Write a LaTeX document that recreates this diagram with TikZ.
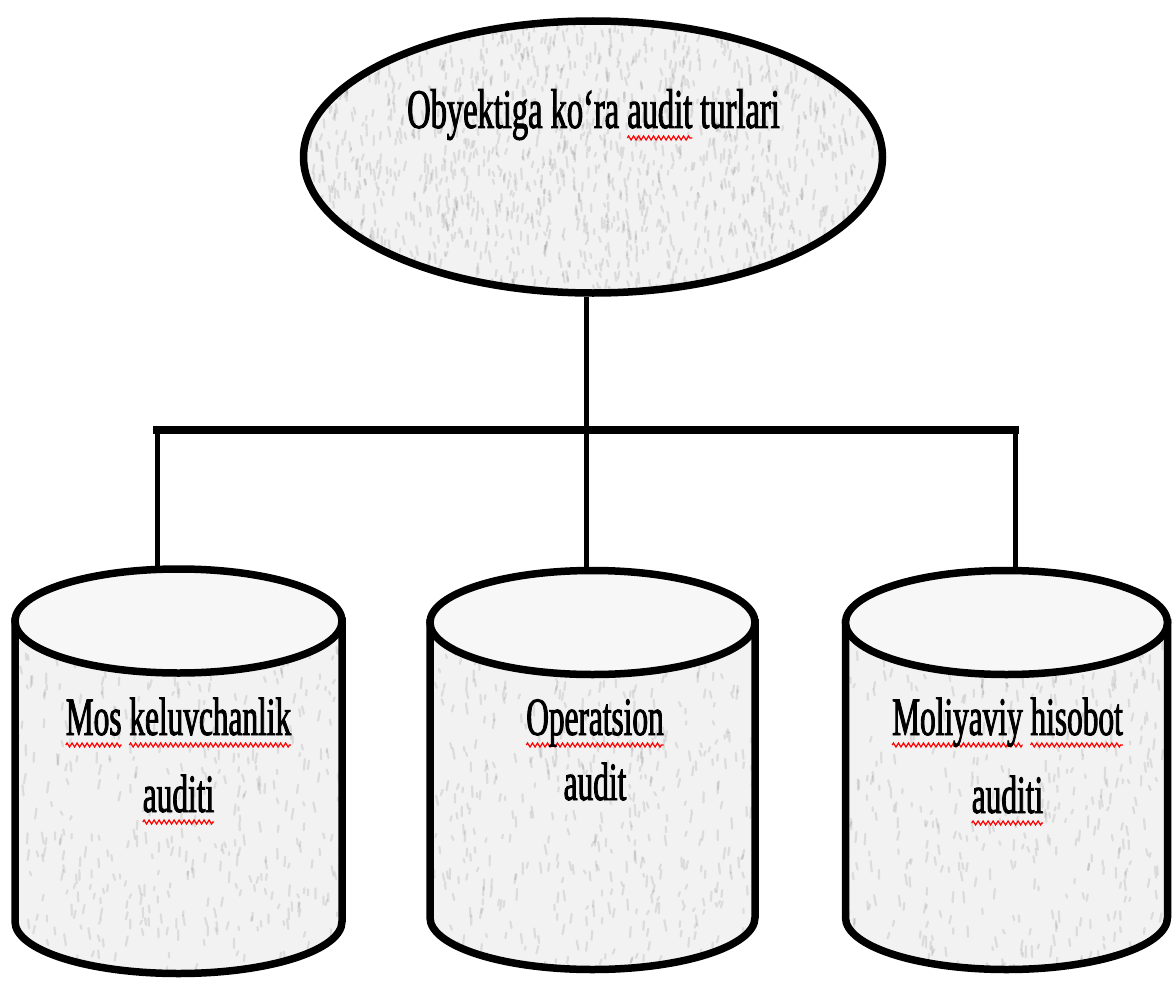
\documentclass[tikz,border=0pt]{standalone}
\usepackage{fontspec}
\usetikzlibrary{shapes.geometric,decorations.pathmorphing}
\newfontfamily\tf[FakeStretch=0.58,FakeBold=1.6]{Liberation Serif}
\newsavebox\sqbox
\newcommand\sq[1]{\leavevmode\sbox\sqbox{#1}\rlap{\tikz[overlay,baseline=0pt,x=1pt,y=1pt]\draw[red, line width=1.2pt, decorate, decoration={zigzag, amplitude=2pt, segment length=5pt}] (0,-10) -- (\wd\sqbox,-10);}\usebox\sqbox}
\newcommand\noisefill[5]{%
  \foreach \k in {1,...,#5}{%
    \pgfmathsetmacro\nx{#1+rnd*#3}%
    \pgfmathsetmacro\ny{#2+rnd*#4}%
    \pgfmathsetmacro\nl{3+rnd*8}%
    \pgfmathsetmacro\nd{(rnd-0.5)*4}%
    \draw[black, opacity=0.09, line width=2.2pt, line cap=round] (\nx,\ny) -- ++(\nd,\nl);
  }}
\newcommand\cylbody[5]{% cx, topy, boty, rx, ry
  (#1-#4,#2) -- (#1-#4,#3) arc[start angle=180, end angle=0, x radius=#4, y radius=#5] -- (#1+#4,#2) -- cycle}
\tikzset{
  outline/.style={draw=black, line width=7.5pt},
  basefill/.style={fill=gray!10},
  topfill/.style={fill=black!3},
  vconn/.style={draw=black, line width=5pt},
  hconn/.style={draw=black, line width=8pt, line cap=rect},
  lbl/.style={font=\tf\fontsize{54}{77}\selectfont, align=center, inner sep=0pt, anchor=base},
}
\begin{document}
\begin{tikzpicture}[x=1pt,y=-1pt]
\pgfmathsetseed{7}
\useasboundingbox (0,0) rectangle (1173,982);

% top ellipse
\fill[basefill] (593,157) ellipse[x radius=289, y radius=136];
\begin{scope}
  \clip (593,157) ellipse[x radius=289, y radius=136];
  \noisefill{300}{18}{586}{280}{1500}
\end{scope}
\node[ellipse, outline, minimum width=579pt, minimum height=272pt, inner sep=0pt] (top) at (593,157) {};
\node[lbl, font=\tf\fontsize{56}{70}\selectfont] (title) at (593.5,128) {Obyektiga ko‘ra \sq{audit} turlari};

% cylinders
\foreach \cx/\ty/\by/\rx in {178.5/621/921.5/163.5, 592.5/622.5/917.5/162.5, 1006.5/622.5/917.5/161}{
  \fill[basefill] \cylbody{\cx}{\ty}{\by}{\rx}{52};
  \begin{scope}
    \clip \cylbody{\cx}{\ty}{\by}{\rx}{52};
    \noisefill{\cx-\rx}{\ty}{2*\rx}{\by-\ty+55}{1200}
  \end{scope}
  \draw[outline] \cylbody{\cx}{\ty}{\by}{\rx}{52};
  \draw[outline, topfill] (\cx,\ty) ellipse[x radius=\rx, y radius=52];
}

% last-line baselines
\node[lbl] (mos) at (178.5,812) {\sq{Mos} \sq{keluvchanlik}\\\sq{auditi}};
\node[lbl, font=\tf\fontsize{54}{65}\selectfont] (oper) at (595,800) {\sq{Operatsion}\\audit};
\node[lbl, font=\tf\fontsize{54}{78}\selectfont] (moli) at (1007.5,813) {\sq{Moliyaviy} \sq{hisobot}\\\sq{auditi}};

% connection points on the cylinder tops
\coordinate (cA) at (157,570);
\coordinate (cB) at (586,571);
\coordinate (cC) at (1015,571);
\coordinate (bus) at (586,430);

\draw[vconn] (top.south -| cB) -- (cB);
\draw[vconn] (cA |- bus) -- (cA);
\draw[vconn] (cC |- bus) -- (cC);
\draw[hconn] (cA |- bus) -- (cC |- bus);
\end{tikzpicture}
\end{document}
